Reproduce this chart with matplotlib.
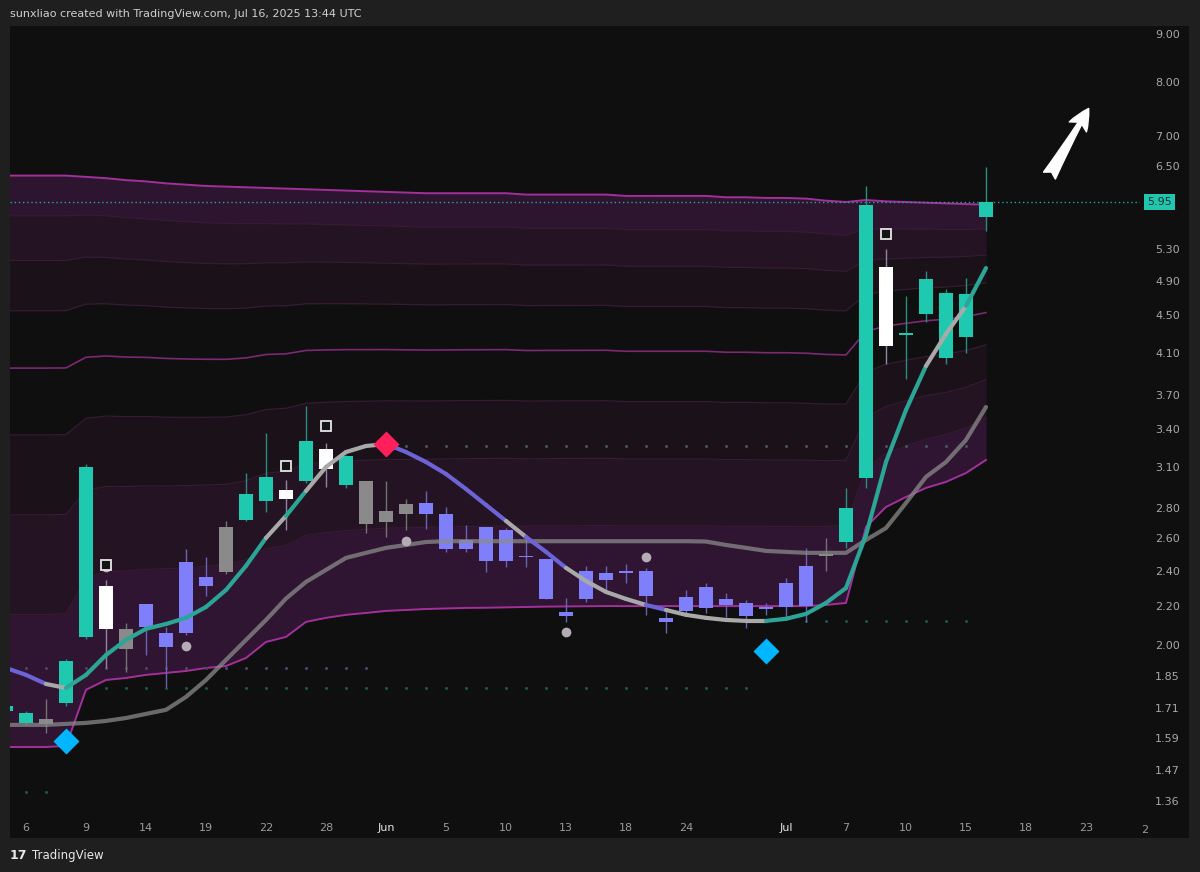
import matplotlib
matplotlib.use("Agg")
import matplotlib.pyplot as plt
from matplotlib.patches import Rectangle
from matplotlib.transforms import blended_transform_factory

# ---- datos de velas (dias habiles, 5 may - 16 jul 2025) ----
fechas = ["May 5", "May 6", "May 7", "May 8", "May 9", "May 12", "May 13", "May 14", "May 15", "May 16",
          "May 19", "May 20", "May 21", "May 22", "May 23", "May 27", "May 28", "May 29", "May 30",
          "Jun 2", "Jun 3", "Jun 4", "Jun 5", "Jun 6", "Jun 9", "Jun 10", "Jun 11", "Jun 12", "Jun 13",
          "Jun 16", "Jun 17", "Jun 18", "Jun 20", "Jun 23", "Jun 24", "Jun 25", "Jun 26", "Jun 27", "Jun 30",
          "Jul 1", "Jul 2", "Jul 3", "Jul 7", "Jul 8", "Jul 9", "Jul 10", "Jul 11", "Jul 14", "Jul 15", "Jul 16"]

apertura = [1.70, 1.65, 1.665, 1.73, 2.04, 2.31, 2.08, 2.09, 2.06, 2.06,
            2.36, 2.39, 2.72, 2.85, 2.93, 2.99, 3.24, 2.96, 2.99, 2.78,
            2.76, 2.835, 2.76, 2.53, 2.67, 2.46, 2.49, 2.47, 2.168, 2.24,
            2.386, 2.386, 2.398, 2.136, 2.17, 2.305, 2.238, 2.216, 2.194, 2.194,
            2.199, 2.50, 2.575, 3.015, 5.07, 4.29, 4.516, 4.05, 4.267, 5.734]
maximo = [1.73, 1.70, 1.75, 1.93, 3.12, 2.345, 2.11, 2.21, 2.09, 2.53,
          2.48, 2.71, 3.05, 3.37, 3.00, 3.60, 3.29, 3.19, 2.99, 2.99,
          2.86, 2.92, 2.81, 2.685, 2.67, 2.665, 2.61, 2.47, 2.244, 2.43,
          2.43, 2.44, 2.416, 2.19, 2.29, 2.33, 2.27, 2.233, 2.216, 2.357,
          2.538, 2.60, 2.942, 6.19, 5.30, 4.72, 5.02, 4.80, 4.935, 6.486]
minimo = [1.69, 1.64, 1.61, 1.72, 2.03, 1.89, 1.87, 1.95, 1.80, 2.05,
          2.255, 2.38, 2.71, 2.77, 2.65, 2.98, 2.95, 2.94, 2.63, 2.61,
          2.65, 2.66, 2.51, 2.51, 2.39, 2.42, 2.42, 2.24, 2.115, 2.22,
          2.29, 2.33, 2.15, 2.06, 2.16, 2.16, 2.14, 2.083, 2.152, 2.125,
          2.115, 2.398, 2.538, 2.942, 3.99, 3.85, 4.43, 3.99, 4.10, 5.54]
cierre = [1.72, 1.69, 1.645, 1.92, 3.10, 2.08, 1.98, 2.21, 1.99, 2.45,
          2.31, 2.67, 2.90, 3.02, 2.86, 3.30, 3.08, 3.18, 2.69, 2.705,
          2.83, 2.76, 2.53, 2.59, 2.46, 2.65, 2.48, 2.24, 2.146, 2.40,
          2.345, 2.398, 2.255, 2.115, 2.25, 2.19, 2.205, 2.146, 2.183, 2.328,
          2.427, 2.488, 2.80, 5.906, 4.173, 4.31, 4.92, 4.755, 4.745, 5.95]
# t = verde, b = azul, g = gris, w = blanco
color_vela = ("t t g t t w g b b b b g t t w t w t g g g b b b b b b b b b "
              "b b b b b b b b b b b g t t w t t t t t").split()

# ---- bandas (linea superior / inferior, niveles en octavos) ----
banda_sup = [6.35, 6.35, 6.35, 6.35, 6.33, 6.31, 6.28, 6.26, 6.23, 6.21,
             6.19, 6.18, 6.17, 6.16, 6.15, 6.14, 6.13, 6.12, 6.11, 6.10,
             6.09, 6.08, 6.08, 6.08, 6.08, 6.08, 6.06, 6.06, 6.06, 6.06,
             6.06, 6.04, 6.04, 6.04, 6.04, 6.04, 6.02, 6.02, 6.01, 6.01,
             6.00, 5.97, 5.95, 5.98, 5.96, 5.95, 5.94, 5.93, 5.92, 5.91]
banda_inf = [1.554, 1.554, 1.554, 1.558, 1.789, 1.833, 1.842, 1.856, 1.865, 1.874,
             1.888, 1.897, 1.935, 2.013, 2.038, 2.115, 2.136, 2.152, 2.162, 2.173,
             2.178, 2.183, 2.186, 2.189, 2.190, 2.192, 2.194, 2.196, 2.197, 2.198,
             2.199, 2.199, 2.199, 2.199, 2.199, 2.199, 2.199, 2.199, 2.199, 2.199,
             2.199, 2.205, 2.216, 2.672, 2.807, 2.877, 2.942, 2.986, 3.052, 3.152]
fracciones = [0, 1/8, 2/8, 3/8, 4/8, 5/8, 6/8, 7/8, 1]
relleno = ["#2f1532", "#241322", "#1b1119", None, None, "#1b1119", "#241322", "#2d1530"]

# ---- medias moviles ----
linea_rapida = [1.888, 1.856, 1.815, 1.797, 1.856, 1.949, 2.023, 2.079, 2.104, 2.136,
                2.194, 2.288, 2.428, 2.601, 2.746, 2.92, 3.098, 3.214, 3.262, 3.278,
                3.214, 3.136, 3.045, 2.934, 2.821, 2.712, 2.607, 2.513, 2.416, 2.339,
                2.277, 2.238, 2.205, 2.178, 2.152, 2.136, 2.125, 2.12, 2.12, 2.131,
                2.157, 2.216, 2.299, 2.62, 3.136, 3.565, 3.973, 4.299, 4.606, 5.057]
# color por tramo: p = morado, g = gris, t = verde
color_rapida = ("p p g t t t t t t t t t t g t g g g g p p p p p p g p p g g "
                "g g p g g g g g t t t t t t t t g g t").split()
linea_lenta = [1.641, 1.641, 1.641, 1.645, 1.649, 1.657, 1.669, 1.686, 1.703, 1.758,
               1.833, 1.926, 2.023, 2.125, 2.24, 2.334, 2.404, 2.476, 2.507, 2.538,
               2.556, 2.575, 2.58, 2.58, 2.58, 2.58, 2.58, 2.58, 2.58, 2.58,
               2.58, 2.58, 2.58, 2.58, 2.58, 2.578, 2.556, 2.538, 2.519, 2.513,
               2.507, 2.507, 2.507, 2.588, 2.665, 2.835, 3.023, 3.136, 3.311, 3.591]

# ---- niveles punteados ----
nivel_precio = [3.262, 1.888, 1.797, 2.12, 1.391]
nivel_desde = [20, 1, 5, 40, 1]
nivel_hasta = [48, 18, 37, 48, 2]
nivel_color = ["#44545e", "#4a4668", "#1d5446", "#1d5446", "#1d5446"]

# ---- senales ----
rombo_azul_x = [3, 38]
rombo_azul_y = [1.577, 1.969]
rombo_rojo_x = [19]
rombo_rojo_y = [3.278]
circulo_x = [5, 9, 20, 28, 32]
circulo_y = [2.422, 1.993, 2.582, 2.063, 2.482]
cuadro_x = [5, 14, 16, 44]
cuadro_y = [2.434, 3.105, 3.427, 5.499]

precio_actual = 5.95
ticks_precio = [9.00, 8.00, 7.00, 6.50, 5.30, 4.90, 4.50, 4.10, 3.70, 3.40, 3.10,
                2.80, 2.60, 2.40, 2.20, 2.00, 1.85, 1.71, 1.59, 1.47, 1.36]
ticks_fecha_pos = [1, 4, 7, 10, 13, 16, 19, 22, 25, 28, 31, 34, 39, 42, 45, 48, 51, 54]
ticks_fecha_txt = ["6", "9", "14", "19", "22", "28", "Jun", "5", "10", "13", "18", "24",
                   "Jul", "7", "10", "15", "18", "23"]

COL = {"t": "#1fc9b0", "b": "#7f7ffb", "g": "#8a8a8a", "w": "#ffffff"}
COL_MECHA = {"t": "#2b8c80", "b": "#6a62b4", "g": "#727272", "w": "#8f86a6"}
COL_LINEA = {"t": "#2aa596", "p": "#6c63d6", "g": "#a9a9a9"}

W, H = 1200, 872
fig = plt.figure(figsize=(12, 8.72), dpi=100, facecolor="#1f1f1f")
# panel oscuro del grafico (detras de los ejes)
fig.patches.append(Rectangle((10 / W, 1 - 838 / H), 1179 / W, 812 / H,
                             transform=fig.transFigure, facecolor="#0f0f0f",
                             edgecolor="none", zorder=-10))

ax = fig.add_axes([10 / W, 1 - 812 / H, 1130 / W, 786 / H])
ax.set_facecolor("none")
ax.set_zorder(5)
ax.set_yscale("log")
ax.set_xlim(0.2, 56.7)
ax.set_ylim(1.324, 9.18)
for s in ax.spines.values():
    s.set_visible(False)

n = len(cierre)
xs = list(range(n))

# bandas
niveles = [[b + f * (t - b) for t, b in zip(banda_sup, banda_inf)] for f in fracciones]
for j in range(8):
    if relleno[j]:
        ax.fill_between(xs, niveles[j], niveles[j + 1], color=relleno[j], lw=0, zorder=1)
for j, f in enumerate(fracciones):
    if j in (0, 8):
        ax.plot(xs, niveles[j], color="#a3309a", lw=1.4, zorder=2)
    elif j == 4:
        ax.plot(xs, niveles[j], color="#7d2873", lw=1.2, zorder=2)
    else:
        ax.plot(xs, niveles[j], color="#361b33", lw=0.9, zorder=2)

# niveles punteados
for p, a, b, c in zip(nivel_precio, nivel_desde, nivel_hasta, nivel_color):
    ax.plot(range(a, b + 1), [p] * (b - a + 1), ls="none", marker="o", ms=2.2,
            color=c, mec="none", zorder=2)

# precio actual
ax.axhline(precio_actual, color="#26a69a", lw=1, ls=(0, (1, 2)), zorder=2)

# velas
for i in range(n):
    c = color_vela[i]
    ax.vlines(i, minimo[i], maximo[i], color=COL_MECHA[c], lw=1, zorder=3)
    lo = min(apertura[i], cierre[i])
    hi = max(apertura[i], cierre[i])
    ax.bar(i, hi - lo, bottom=lo, width=0.74, color=COL[c], lw=0, zorder=4)

# medias
ax.plot(xs, linea_lenta, color="#8a8a8a", lw=3, alpha=0.75, solid_capstyle="round", zorder=5)
for i in range(n - 1):
    ax.plot([i, i + 1], [linea_rapida[i], linea_rapida[i + 1]], color=COL_LINEA[color_rapida[i]],
            lw=3, solid_capstyle="round", zorder=6)

# senales
ax.plot(circulo_x, circulo_y, "o", ms=7, color="#b5adb5", mec="none", zorder=7)
ax.plot(cuadro_x, cuadro_y, "s", ms=7.5, mfc="#151515", mec="#e6e6e6", mew=1.3, zorder=8)
ax.plot(rombo_azul_x, rombo_azul_y, "D", ms=13.5, color="#00b7ff", mec="none", zorder=8)
ax.plot(rombo_rojo_x, rombo_rojo_y, "D", ms=13.5, color="#ff1f5a", mec="none", zorder=8)

# flecha
ax.annotate("", xy=(0.9558, 0.8982), xytext=(0.9186, 0.8066), xycoords="axes fraction",
            arrowprops=dict(arrowstyle="fancy,head_length=0.7,head_width=0.65,tail_width=0.45",
                            color="white", mutation_scale=22), zorder=9)

# eje de precios
ax.yaxis.tick_right()
ax.minorticks_off()
ax.set_yticks(ticks_precio)
ax.set_yticklabels([f"{v:.2f}" for v in ticks_precio])
ax.tick_params(axis="y", length=0, pad=11, labelsize=8, labelcolor="#a8a8a8")
trans = blended_transform_factory(ax.transAxes, ax.transData)
ax.text(1.0062, precio_actual, f"{precio_actual:.2f}", transform=trans, fontsize=8,
        color="#10302c", va="center", ha="left",
        bbox=dict(boxstyle="square,pad=0.3", facecolor="#22c5ad", edgecolor="none"))

# eje de fechas
ax.set_xticks(ticks_fecha_pos)
ax.set_xticklabels(ticks_fecha_txt)
ax.tick_params(axis="x", length=0, pad=8, labelsize=8, labelcolor="#9a9a9a")
for lbl in ax.get_xticklabels():
    if lbl.get_text() in ("Jun", "Jul"):
        lbl.set_color("#e6e6e6")
ax.text(56.95, -0.0165, "2", transform=blended_transform_factory(ax.transData, ax.transAxes),
        fontsize=8, color="#9a9a9a", ha="center", va="top", clip_on=False)

# textos de cabecera y pie
fig.text(10 / W, 1 - 14 / H, "sunxliao created with TradingView.com, Jul 16, 2025 13:44 UTC",
         fontsize=8, color="#cfcfcf", va="center", ha="left")
fig.text(10 / W, 1 - 855 / H, "17", fontsize=9, fontweight="bold", color="#e8e8e8",
         va="center", ha="left")
fig.text(32 / W, 1 - 855 / H, "TradingView", fontsize=8.5, color="#e8e8e8",
         va="center", ha="left")

fig.savefig("out.png", dpi=100, facecolor=fig.get_facecolor())
